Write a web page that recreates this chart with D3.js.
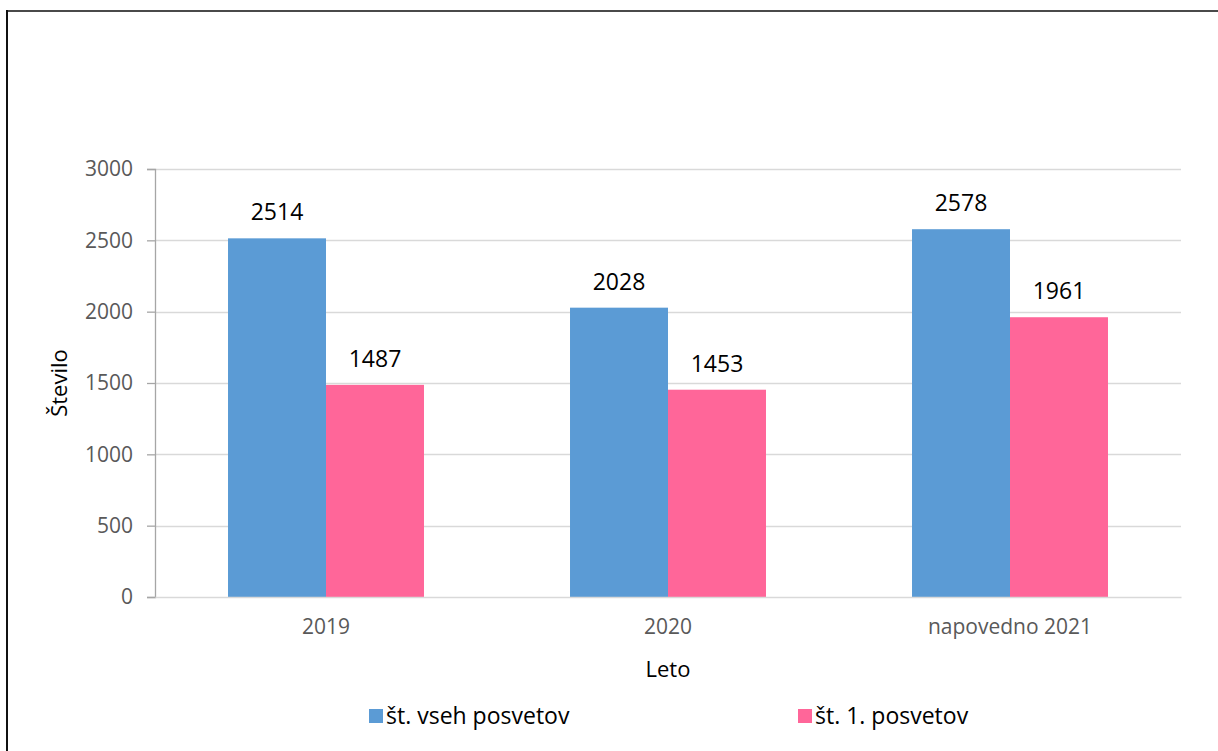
<!DOCTYPE html>
<html>
  <head>
    <meta charset="utf-8">
    <title>Število posvetov</title>
    <script src="https://cdn.jsdelivr.net/npm/d3@7"></script>
  </head>

  <style>

    body {
      margin: 0;
      background: #FFFFFF;
    }

    text {
      font-family: "Open Sans", Arial, sans-serif;
    }

  </style>

  <body>
    <script>

      // data
      var years = ["2019", "2020", "napovedno 2021"];
      var seriesNames = ["št. vseh posvetov", "št. 1. posvetov"];
      var allVisits = [2514, 2028, 2578];
      var firstVisits = [1487, 1453, 1961];
      var yTicks = [0, 500, 1000, 1500, 2000, 2500, 3000];
      var colors = ["#5B9BD5", "#FF6699"];

      var width = 1218,
        height = 751;

      var margin = {top: 169, right: 37, bottom: 154, left: 155};

      var svg = d3.select("body")
        .append("svg")
        .attr("width", width)
        .attr("height", height);

      // chart frame (only top and left edges show in the picture)
      svg.append("line")
        .attr("x1", 6).attr("x2", width)
        .attr("y1", 11).attr("y2", 11)
        .attr("stroke", "#4a4a4a")
        .attr("stroke-width", 2);
      svg.append("line")
        .attr("x1", 7).attr("x2", 7)
        .attr("y1", 10).attr("y2", height)
        .attr("stroke", "#111")
        .attr("stroke-width", 2);

      var innerW = width - margin.left - margin.right,
        innerH = height - margin.top - margin.bottom;

      var g = svg.append("g")
        .attr("transform", "translate(" + margin.left + "," + margin.top + ")");

      var x = d3.scaleBand()
        .domain(years)
        .range([0, innerW]);

      var y = d3.scaleLinear()
        .domain([0, 3000])
        .range([innerH, 0]);

      // bars take ~57% of each band, split between the two series
      var groupW = x.bandwidth() * 0.573;
      var x1 = d3.scaleBand()
        .domain([0, 1])
        .range([0, groupW]);

      // gridlines
      g.selectAll(".grid")
        .data(yTicks.filter(d => d > 0))
        .enter()
        .append("line")
        .attr("class", "grid")
        .attr("x1", 0).attr("x2", innerW)
        .attr("y1", d => Math.round(y(d)) + 0.5)
        .attr("y2", d => Math.round(y(d)) + 0.5)
        .attr("stroke", "#D9D9D9")
        .attr("stroke-width", 1.3);

      // y axis
      var yAxis = g.append("g")
        .call(d3.axisLeft(y).tickValues(yTicks).tickFormat(d3.format("d")).tickSize(8).tickPadding(14));
      yAxis.select(".domain").attr("stroke", "#A6A6A6").attr("stroke-width", 1.3);
      yAxis.selectAll(".tick line").attr("stroke", "#A6A6A6").attr("stroke-width", 1.3);
      yAxis.selectAll(".tick text")
        .attr("fill", "#595959")
        .style("font-size", "21px");

      // bars
      var data = years.map((yr, i) => ({year: yr, values: [allVisits[i], firstVisits[i]]}));

      var groups = g.selectAll(".grp")
        .data(data)
        .enter()
        .append("g")
        .attr("class", "grp")
        .attr("transform", d => "translate(" + (x(d.year) + (x.bandwidth() - groupW) / 2) + ",0)");

      groups.selectAll("rect")
        .data(d => d.values.map((v, k) => ({k: k, v: v})))
        .enter()
        .append("rect")
        .attr("x", d => x1(d.k))
        .attr("width", x1.bandwidth())
        .attr("y", d => y(d.v))
        .attr("height", d => innerH - y(d.v))
        .attr("fill", d => colors[d.k]);

      groups.selectAll(".lbl")
        .data(d => d.values.map((v, k) => ({k: k, v: v})))
        .enter()
        .append("text")
        .attr("class", "lbl")
        .attr("x", d => x1(d.k) + x1.bandwidth() / 2)
        .attr("y", d => y(d.v) - 18)
        .attr("text-anchor", "middle")
        .attr("fill", "#000")
        .style("font-size", "23px")
        .text(d => d.v);

      // x axis
      var xAxis = g.append("g")
        .attr("transform", "translate(0," + innerH + ")")
        .call(d3.axisBottom(x).tickSize(0).tickPadding(22));
      xAxis.select(".domain").attr("stroke", "#D9D9D9").attr("stroke-width", 1.5);
      xAxis.selectAll(".tick text")
        .attr("fill", "#595959")
        .style("font-size", "21px");

      // axis titles
      svg.append("text")
        .attr("transform", "translate(67," + (margin.top + innerH / 2) + ") rotate(-90)")
        .attr("text-anchor", "middle")
        .attr("fill", "#000")
        .style("font-size", "22px")
        .text("Število");

      svg.append("text")
        .attr("x", margin.left + innerW / 2)
        .attr("y", 677)
        .attr("text-anchor", "middle")
        .attr("fill", "#000")
        .style("font-size", "22px")
        .text("Leto");

      // legend
      var legendX = [369, 798];
      var legend = svg.selectAll(".legend")
        .data(seriesNames)
        .enter()
        .append("g")
        .attr("class", "legend")
        .attr("transform", (d, i) => "translate(" + legendX[i] + ",716)");

      legend.append("rect")
        .attr("x", 0).attr("y", -7)
        .attr("width", 14).attr("height", 14)
        .attr("fill", (d, i) => colors[i]);

      legend.append("text")
        .attr("x", 17)
        .attr("y", 8)
        .attr("fill", "#000")
        .style("font-size", "23px")
        .text(d => d);

    </script>
  </body>
</html>
